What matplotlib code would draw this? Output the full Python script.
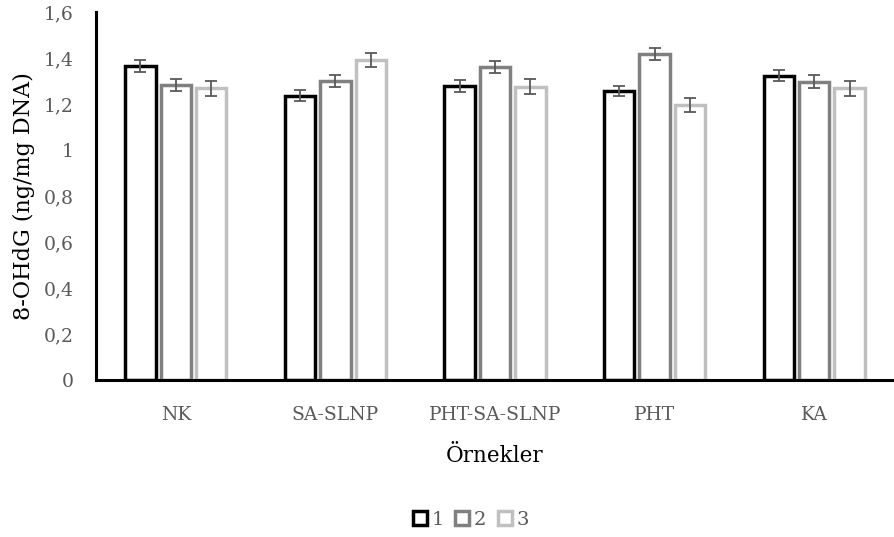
import matplotlib
matplotlib.use("Agg")
import matplotlib.pyplot as plt
import numpy as np
from matplotlib.lines import Line2D

categories = ["NK", "SA-SLNP", "PHT-SA-SLNP", "PHT", "KA"]
series_names = ["1", "2", "3"]
s1 = [1.365, 1.236, 1.278, 1.257, 1.323]
s2 = [1.283, 1.300, 1.360, 1.417, 1.297]
s3 = [1.268, 1.391, 1.275, 1.196, 1.268]
e1 = [0.025, 0.023, 0.025, 0.023, 0.023]
e2 = [0.025, 0.026, 0.026, 0.026, 0.027]
e3 = [0.032, 0.032, 0.033, 0.031, 0.033]
yticks = [0, 0.2, 0.4, 0.6, 0.8, 1.0, 1.2, 1.4, 1.6]
ytick_labels = ["0", "0,2", "0,4", "0,6", "0,8", "1", "1,2", "1,4", "1,6"]

colors = ["#000000", "#808080", "#c0c0c0"]
font = "DejaVu Serif"
plt.rcParams['font.family'] = [font]

fig = plt.figure(figsize=(8.94, 5.37), dpi=100)
ax = fig.add_axes([0.1074, 0.2924, 0.8926, 0.6853])

x = np.arange(len(categories))
w = 0.19
off = 0.222
for i, (vals, errs) in enumerate(zip([s1, s2, s3], [e1, e2, e3])):
    pos = x + (i - 1) * off
    ax.bar(pos, vals, width=w, facecolor="white", edgecolor=colors[i], linewidth=2.5, zorder=2)
    ax.errorbar(pos, vals, yerr=errs, fmt="none", ecolor="#595959", elinewidth=1.3,
                capsize=4.5, capthick=1.3, zorder=3)

ax.set_xlim(-0.5, 4.5)
ax.set_ylim(0, 1.6)
ax.set_yticks(yticks)
ax.set_yticklabels(ytick_labels)
ax.set_xticks(x)
ax.set_xticklabels(categories)
ax.tick_params(axis="both", length=0, labelsize=13.5, labelcolor="#595959")
ax.tick_params(axis="x", pad=19)
ax.tick_params(axis="y", pad=16)
for sp in ["top", "right"]:
    ax.spines[sp].set_visible(False)
for sp in ["left", "bottom"]:
    ax.spines[sp].set_linewidth(2.2)
    ax.spines[sp].set_color("black")

ax.set_xlabel("Örnekler", fontsize=15.5, labelpad=15)
ax.set_ylabel("8-OHdG (ng/mg DNA)", fontsize=16, labelpad=6)

handles = [Line2D([], [], marker="s", linestyle="none", markersize=10, markerfacecolor="white",
                  markeredgecolor=c, markeredgewidth=2.5) for c in colors]
leg = fig.legend(handles, series_names, loc="center", bbox_to_anchor=(0.525, 0.032), ncol=3,
                 frameon=False, fontsize=14, handletextpad=0.1, columnspacing=0.45, handlelength=1.0)
for t in leg.get_texts():
    t.set_color("#595959")

fig.savefig("out.png", dpi=100)
